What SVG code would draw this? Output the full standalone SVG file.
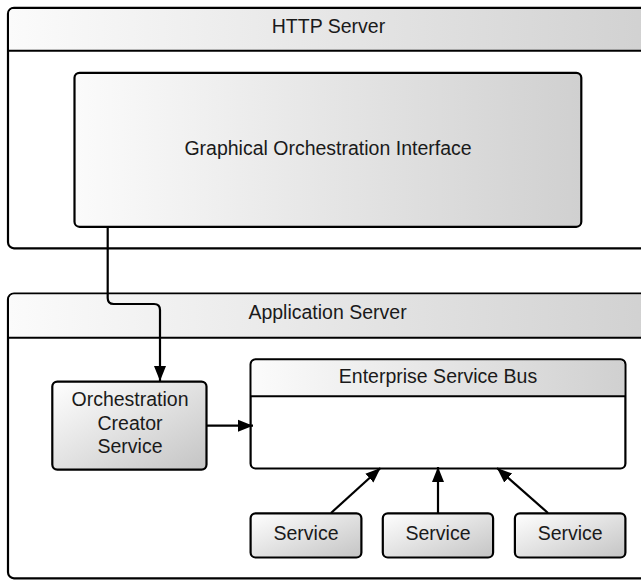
<svg xmlns="http://www.w3.org/2000/svg" width="641" height="581" viewBox="0 0 641 581">
  <defs>
    <linearGradient id="shade" x1="0" y1="0" x2="1" y2="1">
      <stop offset="0" stop-color="#ffffff"/>
      <stop offset="1" stop-color="#c4c4c4"/>
    </linearGradient>
    <linearGradient id="band" x1="0" y1="0" x2="1" y2="0">
      <stop offset="0" stop-color="#fbfbfb"/>
      <stop offset="1" stop-color="#d0d0d0"/>
    </linearGradient>
    <marker id="arrow" markerUnits="userSpaceOnUse" markerWidth="16" markerHeight="14" refX="15" refY="7" orient="auto">
      <path d="M0,1 L15,7 L0,13 Z" fill="#000"/>
    </marker>
  </defs>
  <style>
    .box { stroke: #000; stroke-width: 2.2; }
    .line { fill: none; stroke: #000; stroke-width: 2; }
    .lbl { font-family: "Liberation Sans", Arial, sans-serif; font-size: 19.5px; fill: #1a1a1a; text-anchor: middle; }
    .conn { fill: none; stroke: #000; stroke-width: 2.2; marker-end: url(#arrow); }
  </style>

  <rect width="641" height="581" fill="#ffffff"/>

  <!-- HTTP Server container -->
  <g id="http-server">
    <rect class="box" x="8" y="7.8" width="660" height="240.5" rx="6" fill="#ffffff"/>
    <path d="M9.1 50.7 V14 Q9.1 8.9 14 8.9 H668 V50.7 Z" fill="url(#band)"/>
    <line class="line" x1="8" y1="50.7" x2="668" y2="50.7" stroke-width="2.2"/>
    <text class="lbl" x="328.5" y="33.3">HTTP Server</text>
  </g>

  <!-- Graphical Orchestration Interface -->
  <g id="goi">
    <rect class="box" x="74.5" y="72.8" width="506.8" height="154" rx="5" fill="url(#band)"/>
    <text class="lbl" x="328" y="155">Graphical Orchestration Interface</text>
  </g>

  <!-- Application Server container -->
  <g id="app-server">
    <rect class="box" x="8" y="293.5" width="660" height="284.8" rx="6" fill="#ffffff"/>
    <path d="M9.1 337.7 V300 Q9.1 294.6 14 294.6 H668 V337.7 Z" fill="url(#band)"/>
    <line class="line" x1="8" y1="337.7" x2="668" y2="337.7" stroke-width="2.2"/>
    <text class="lbl" x="327.5" y="319.3">Application Server</text>
  </g>

  <!-- Orchestration Creator Service -->
  <g id="ocs">
    <rect class="box" x="52.3" y="381.6" width="154.2" height="88" rx="5" fill="url(#shade)"/>
    <text class="lbl" x="130" y="406">Orchestration</text>
    <text class="lbl" x="130" y="429.5">Creator</text>
    <text class="lbl" x="130" y="453.3">Service</text>
  </g>

  <!-- Enterprise Service Bus -->
  <g id="esb">
    <rect class="box" x="250.6" y="359.3" width="374.8" height="109.2" rx="5" fill="#ffffff"/>
    <path d="M251.7 396.2 V365 Q251.7 360.4 256 360.4 H620 Q624.3 360.4 624.3 365 V396.2 Z" fill="url(#band)"/>
    <line class="line" x1="250.6" y1="396.2" x2="625.4" y2="396.2" stroke-width="2.2"/>
    <text class="lbl" x="438" y="382.7">Enterprise Service Bus</text>
  </g>

  <!-- Services -->
  <g id="service-1">
    <rect class="box" x="250.6" y="513.3" width="110.8" height="44.2" rx="5" fill="url(#shade)"/>
    <text class="lbl" x="306" y="540">Service</text>
  </g>
  <g id="service-2">
    <rect class="box" x="382.8" y="513.3" width="110.3" height="44.2" rx="5" fill="url(#shade)"/>
    <text class="lbl" x="438" y="540">Service</text>
  </g>
  <g id="service-3">
    <rect class="box" x="514.9" y="513.3" width="110.5" height="44.2" rx="5" fill="url(#shade)"/>
    <text class="lbl" x="570.2" y="540">Service</text>
  </g>

  <!-- Connectors -->
  <g id="connectors">
    <path class="conn" d="M107.7 227 V298 Q107.7 304 113.7 304 H154 Q160 304 160 310 V381"/>
    <path class="conn" d="M206.5 425.7 H253"/>
    <path class="conn" d="M331 513 L380.5 468"/>
    <path class="conn" d="M438 513 V467"/>
    <path class="conn" d="M548 513 L497 468"/>
  </g>
</svg>
